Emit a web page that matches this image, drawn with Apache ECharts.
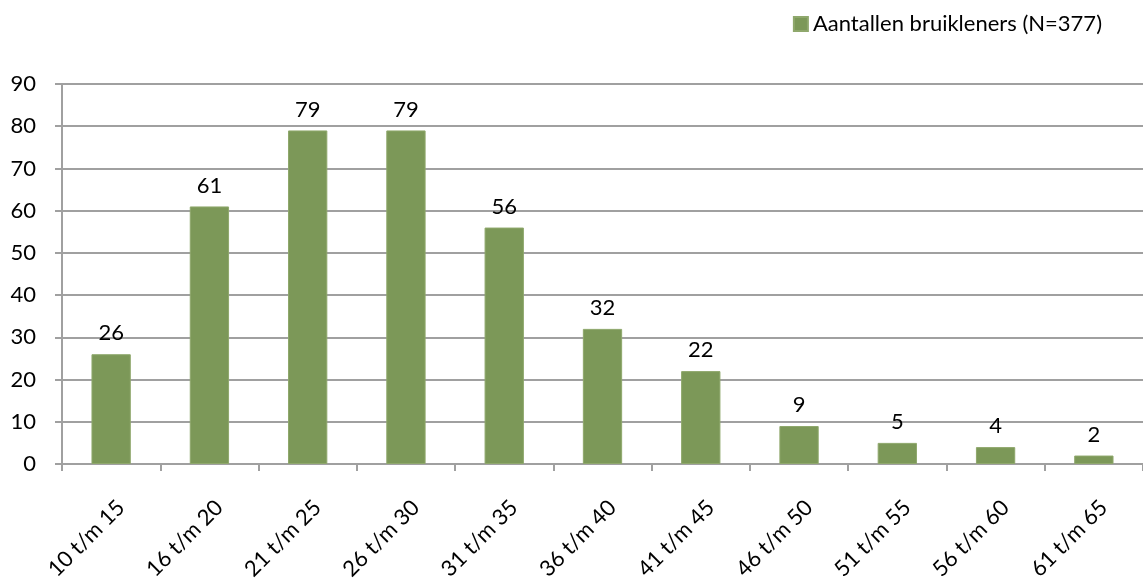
<!DOCTYPE html>
<html>
<head>
<meta charset="utf-8">
<script src="https://cdn.jsdelivr.net/npm/echarts@6/dist/echarts.min.js"></script>
<style>
  html, body { margin: 0; padding: 0; background: #fff; }
  #chart { width: 1143px; height: 578px; }
</style>
</head>
<body>
<div id="chart"></div>
<script>
// age groups and counts
const categories = ['10 t/m 15', '16 t/m 20', '21 t/m 25', '26 t/m 30', '31 t/m 35', '36 t/m 40',
  '41 t/m 45', '46 t/m 50', '51 t/m 55', '56 t/m 60', '61 t/m 65'];
const counts = [26, 61, 79, 79, 56, 32, 22, 9, 5, 4, 2];
const seriesName = 'Aantallen bruikleners (N=377)';

const FONT = 'Lato, "Open Sans", sans-serif';
const GRID_COLOR = '#a0a0a0';

const chart = echarts.init(document.getElementById('chart'));

chart.setOption({
  animation: false,
  textStyle: { fontFamily: FONT },
  legend: {
    top: 8,
    right: 36,
    icon: 'rect',
    itemWidth: 14,
    itemHeight: 14,
    itemGap: 4,
    textStyle: { fontSize: 22, color: '#000', fontFamily: FONT },
    data: [seriesName]
  },
  grid: { left: 62, right: 0, top: 84, bottom: 114, outerBoundsMode: 'none' },
  xAxis: {
    type: 'category',
    data: categories,
    axisLine: { lineStyle: { color: GRID_COLOR, width: 2 } },
    axisTick: { show: true, alignWithLabel: false, length: 7, lineStyle: { color: GRID_COLOR, width: 2 } },
    axisLabel: {
      rotate: 45, fontSize: 22, color: '#000', margin: 30, interval: 0,
      verticalAlign: 'top', padding: [3, 0, 0, 0], fontFamily: FONT
    }
  },
  yAxis: {
    type: 'value',
    min: 0,
    max: 90,
    interval: 10,
    axisLine: { show: true, lineStyle: { color: GRID_COLOR, width: 2 } },
    axisTick: { show: true, length: 7, lineStyle: { color: GRID_COLOR, width: 2 } },
    axisLabel: { fontSize: 22, color: '#000', margin: 26, fontFamily: FONT },
    splitLine: { lineStyle: { color: GRID_COLOR, width: 2 } }
  },
  series: [{
    name: seriesName,
    type: 'bar',
    data: counts,
    barWidth: '40%',
    itemStyle: { color: '#7C9858', borderColor: '#8fa86c', borderWidth: 1 },
    label: {
      show: true,
      position: 'top',
      distance: 10,
      fontSize: 22,
      color: '#000',
      fontFamily: FONT
    }
  }]
});
</script>
</body>
</html>
